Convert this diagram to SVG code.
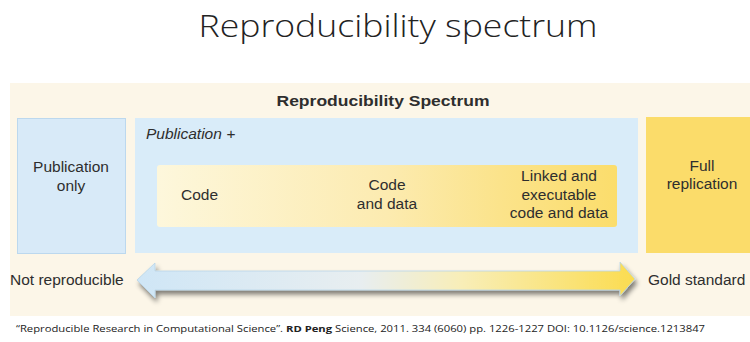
<svg xmlns="http://www.w3.org/2000/svg" width="750" height="342" viewBox="0 0 750 342">
<defs>
<style>
.t{font-family:"Liberation Sans",Arial,sans-serif;fill:#2e2e2e;font-size:15.5px}
.c{text-anchor:middle}
.box{stroke-width:1}
</style>
<linearGradient id="inner" x1="0" y1="0" x2="1" y2="0">
<stop offset="0" stop-color="#fdf7dc"/>
<stop offset="0.5" stop-color="#fcebb0"/>
<stop offset="0.75" stop-color="#fbe38a"/>
<stop offset="1" stop-color="#fbdd6c"/>
</linearGradient>
<linearGradient id="arr" x1="0" y1="0" x2="1" y2="0">
<stop offset="0" stop-color="#cfe6f6"/>
<stop offset="0.45" stop-color="#e8eef0"/>
<stop offset="0.65" stop-color="#f8eeb8"/>
<stop offset="1" stop-color="#fbdc50"/>
</linearGradient>
<filter id="sh" x="-5%" y="-40%" width="110%" height="200%">
<feGaussianBlur in="SourceAlpha" stdDeviation="2.5"/>
<feOffset dx="2" dy="4"/>
<feComponentTransfer><feFuncA type="linear" slope="0.5"/></feComponentTransfer>
<feMerge><feMergeNode/><feMergeNode in="SourceGraphic"/></feMerge>
</filter>
</defs>
<rect width="750" height="342" fill="#ffffff"/>
<text x="398" y="37" text-anchor="middle" font-family="'Open Sans',sans-serif" font-weight="300" font-size="32" fill="#222" textLength="399" lengthAdjust="spacingAndGlyphs">Reproducibility spectrum</text>
<rect x="10" y="83" width="740" height="233" fill="#fcf6e8"/>
<text class="t c" x="383" y="106" font-weight="bold" font-size="17" textLength="213" lengthAdjust="spacingAndGlyphs">Reproducibility Spectrum</text>
<g id="pub-only">
<rect class="box" x="17.5" y="118.5" width="108" height="135" fill="#d8eaf8" stroke="#bcd8ee"/>
<text class="t c" x="71" y="172">Publication</text>
<text class="t c" x="71" y="191">only</text>
</g>
<g id="pub-plus">
<rect x="135" y="118" width="503" height="135" fill="#d9ecf9"/>
<text class="t" x="146" y="139" font-style="italic">Publication +</text>
</g>
<g id="inner-range">
<rect x="157" y="165" width="460" height="62" rx="3" fill="url(#inner)"/>
</g>
<g id="code"><text class="t" x="181" y="200">Code</text></g>
<g id="code-data">
<text class="t c" x="387" y="190">Code</text>
<text class="t c" x="387" y="209">and data</text>
</g>
<g id="linked">
<text class="t c" x="559" y="181">Linked and</text>
<text class="t c" x="559" y="200">executable</text>
<text class="t c" x="559" y="218">code and data</text>
</g>
<g id="full">
<rect x="646" y="117" width="104" height="136" fill="#fbdc6a"/>
<text class="t c" x="702" y="171">Full</text>
<text class="t c" x="702" y="189">replication</text>
</g>
<g id="connectors">
<path d="M137,280 L155,263 L155,271 L620,271 L620,262 L635,279 L620,296 L620,290 L155,290 L155,298 Z" fill="url(#arr)" stroke="#b9d6e8" stroke-width="0.8" filter="url(#sh)"/>
</g>
<text class="t" x="10" y="285" font-size="16">Not reproducible</text>
<text class="t" x="648" y="285" font-size="16">Gold standard</text>
<text x="16" y="332" font-family="'Open Sans',sans-serif" font-size="9" fill="#222" textLength="689" lengthAdjust="spacingAndGlyphs">“Reproducible Research in Computational Science”. <tspan font-weight="bold">RD Peng</tspan> Science, 2011. 334 (6060) pp. 1226-1227 DOI: 10.1126/science.1213847</text>
</svg>
